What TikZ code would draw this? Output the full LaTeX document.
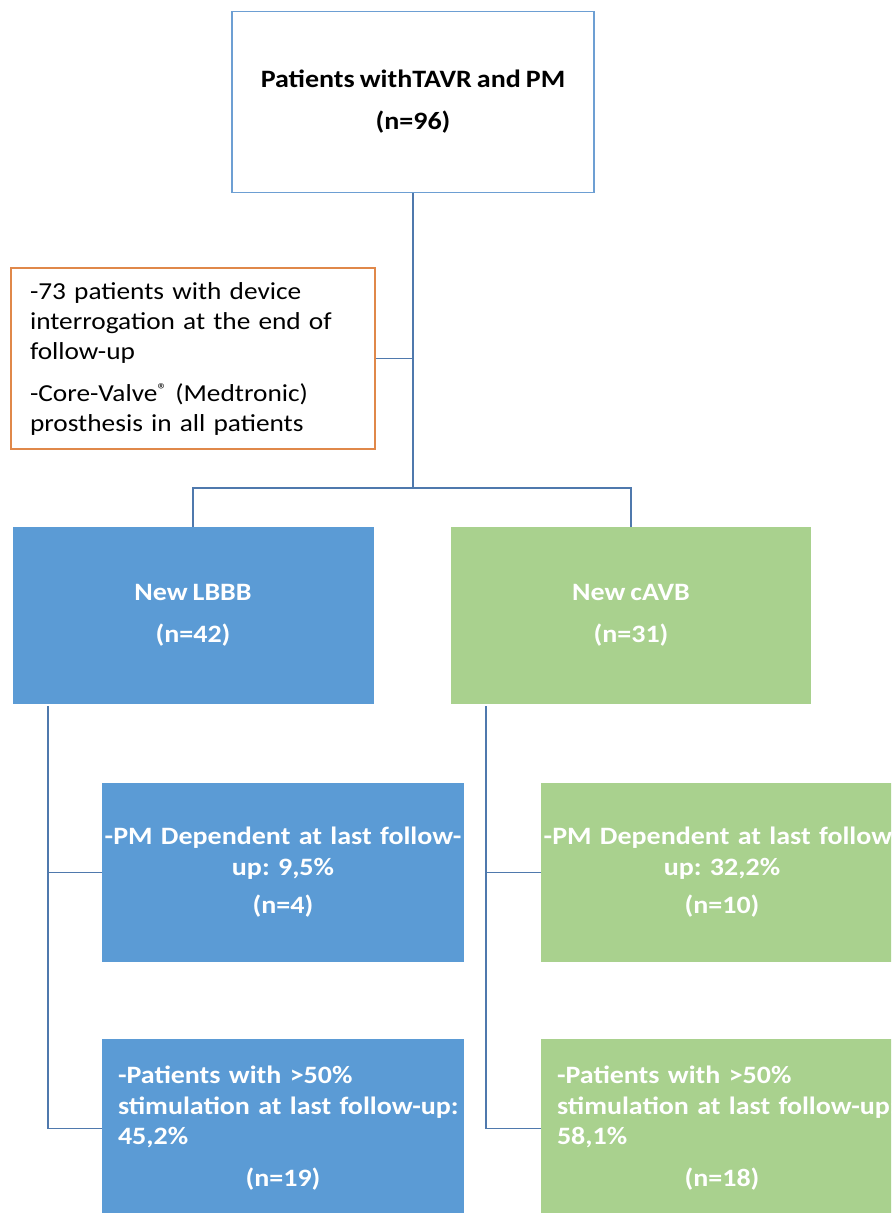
\documentclass[tikz,border=0pt]{standalone}
\usepackage{fontspec}
\setmainfont{Carlito}[FakeStretch=1.12, WordSpace=0.8]
\usepackage{tikz}
\frenchspacing

\definecolor{boxblue}{HTML}{5B9BD5}
\definecolor{boxgreen}{HTML}{A9D18E}
\definecolor{noteorange}{HTML}{E0884A}
\definecolor{framblue}{HTML}{6D9FD3}
\definecolor{linkblue}{HTML}{4F79AD}

\begin{document}
\begin{tikzpicture}[x=0.5pt, y=-0.5pt,
    box/.style={rectangle, inner sep=0pt, minimum width=181pt, minimum height=89.5pt, align=center},
    boldtext/.style={font=\bfseries\fontsize{12.5}{15.25}\selectfont},
    bluebox/.style={box, boldtext, fill=boxblue, text=white},
    greenbox/.style={box, boldtext, fill=boxgreen, text=white},
    link/.style={draw=linkblue, line width=0.75pt}]
    \useasboundingbox (0,0) rectangle (891,1213);
    \clip (0,0) rectangle (891,1213);
    % study population
    \node[box, boldtext, draw=framblue, line width=0.6pt, minimum height=90.5pt] (top) at (413,102)
        {Patients withTAVR and PM\\[5.75pt](n=96)};
    % inclusion note
    \node[box, draw=noteorange, line width=0.6pt, minimum width=182pt, minimum height=90.5pt,
          text width=163pt, inner xsep=9.5pt, align=left, font=\fontsize{12.2}{15}\selectfont] (note) at (193,358.5)
        {-73 patients with device\\interrogation at the end of\\follow-up\\[6pt]
         -Core-Valve\raisebox{0.45ex}{\fontsize{8.5}{9}\selectfont ®} (Medtronic)\\prosthesis in all patients};
    % conduction groups
    \node[bluebox, minimum width=180.5pt, minimum height=88.5pt] (lbbb) at (193,615.5) {New LBBB\\[5.75pt](n=42)};
    \node[greenbox, minimum width=180pt, minimum height=88.5pt] (cavb) at (631,615.5) {New cAVB\\[5.75pt](n=31)};
    % pacing dependency
    \node[bluebox, text width=181pt] (lbbbdep) at (283,872.5)
        {-PM Dependent at last follow-\\up: 9,5\%\\[4pt](n=4)};
    \node[greenbox, text width=181pt] (cavbdep) at (722,872.5)
        {-PM Dependent at last follow-\\up: 32,2\%\\[4pt](n=10)};
    % stimulation burden
    \node[bluebox, text width=165pt, inner xsep=8pt, align=left] (lbbbstim) at (283,1128.5)
        {-Patients with >50\%\\\mbox{stimulation at last follow-up:}\\45,2\%\\[5.75pt]\hfill(n=19)\hfill\mbox{}};
    \node[greenbox, text width=165pt, inner xsep=8pt, align=left] (cavbstim) at (722,1128.5)
        {-Patients with >50\%\\\mbox{stimulation at last follow-up:}\\58,1\%\\[5.75pt]\hfill(n=18)\hfill\mbox{}};
    % tree connectors
    \coordinate (split) at (413,488);
    \coordinate (ltrunk) at (48,706);
    \coordinate (rtrunk) at (486,706);
    \draw[link] (top.south) -- (split);
    \draw[link] (note.east) -- (note.east -| top.south);
    \draw[link] (lbbb.north) |- (split) -| (cavb.north);
    \draw[link] (ltrunk) |- (lbbbstim.west);
    \draw[link] (lbbbdep.west) -- (lbbbdep.west -| ltrunk);
    \draw[link] (rtrunk) |- (cavbstim.west);
    \draw[link] (cavbdep.west) -- (cavbdep.west -| rtrunk);
\end{tikzpicture}
\end{document}
